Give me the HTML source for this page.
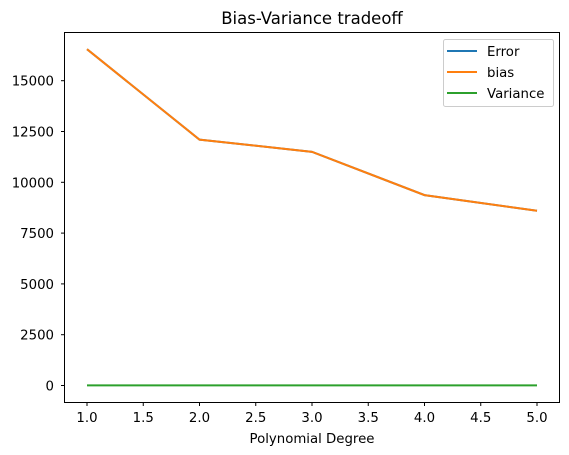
<!DOCTYPE html>
<html><head><meta charset="utf-8"><style>
body{margin:0;background:#fff;}
svg{display:block;font-family:"DejaVu Sans","Liberation Sans",sans-serif;}
</style></head><body>
<svg id="chart" width="569" height="455">
<text x="312" y="24" font-size="16.5" text-anchor="middle" fill="#000">Bias-Variance tradeoff</text>
<text x="312" y="443" font-size="13.3" text-anchor="middle" fill="#000">Polynomial Degree</text>
<g id="plot"></g>
<rect x="64.5" y="32.5" width="495" height="370" fill="none" stroke="#000" stroke-width="1"/>
<g>
<rect x="443.5" y="39.5" width="110" height="67" rx="2" fill="#fff" fill-opacity="0.8" stroke="#ccc"/>
<line x1="447" y1="51" x2="477" y2="51" stroke="#1f77b4" stroke-width="2"/>
<text x="487" y="56" font-size="13.3">Error</text>
<line x1="447" y1="72" x2="477" y2="72" stroke="#ff7f0e" stroke-width="2"/>
<text x="487" y="77" font-size="13.3">bias</text>
<line x1="447" y1="93" x2="477" y2="93" stroke="#2ca02c" stroke-width="2"/>
<text x="487" y="98" font-size="13.3">Variance</text>
</g>
</svg>
<script>
const degrees=[1,2,3,4,5];
const errorVals=[16550,12100,11500,9370,8600];
const biasVals=[16550,12100,11500,9370,8600];
const varianceVals=[5,5,5,5,5];
const xTicks=[1.0,1.5,2.0,2.5,3.0,3.5,4.0,4.5,5.0];
const yTicks=[0,2500,5000,7500,10000,12500,15000];
const NS="http://www.w3.org/2000/svg";
const xs=v=>87+(v-1)*112.5;
const ys=v=>385.5-v*0.02032;
const g=document.getElementById('plot');
function mk(t,a){const e=document.createElementNS(NS,t);for(const k in a)e.setAttribute(k,a[k]);g.appendChild(e);return e;}
xTicks.forEach(t=>{
 const l=mk('line',{x1:xs(t),x2:xs(t),y1:402.5,y2:406,stroke:'#000'});
 
 
 const tx=mk('text',{x:xs(t),y:422,'font-size':13.3,'text-anchor':'middle'});
 tx.textContent=t.toFixed(1);
 
 
});
yTicks.forEach(t=>{
 const l=mk('line',{x1:61,x2:64.5,y1:ys(t),y2:ys(t),stroke:'#000'});
 
 
 const tx=mk('text',{x:54,y:ys(t)+5,'font-size':13.3,'text-anchor':'end'});
 tx.textContent=String(t);
 
 
});
function series(vals,color,name){
 const p=mk('polyline',{points:degrees.map((d,i)=>xs(d)+','+ys(vals[i])).join(' '),fill:'none',stroke:color,'stroke-width':2});
 
 
}
series(errorVals,'#1f77b4','error-line');
series(biasVals,'#ff7f0e','bias-line');
series(varianceVals,'#2ca02c','variance-line');
</script>
</body></html>
